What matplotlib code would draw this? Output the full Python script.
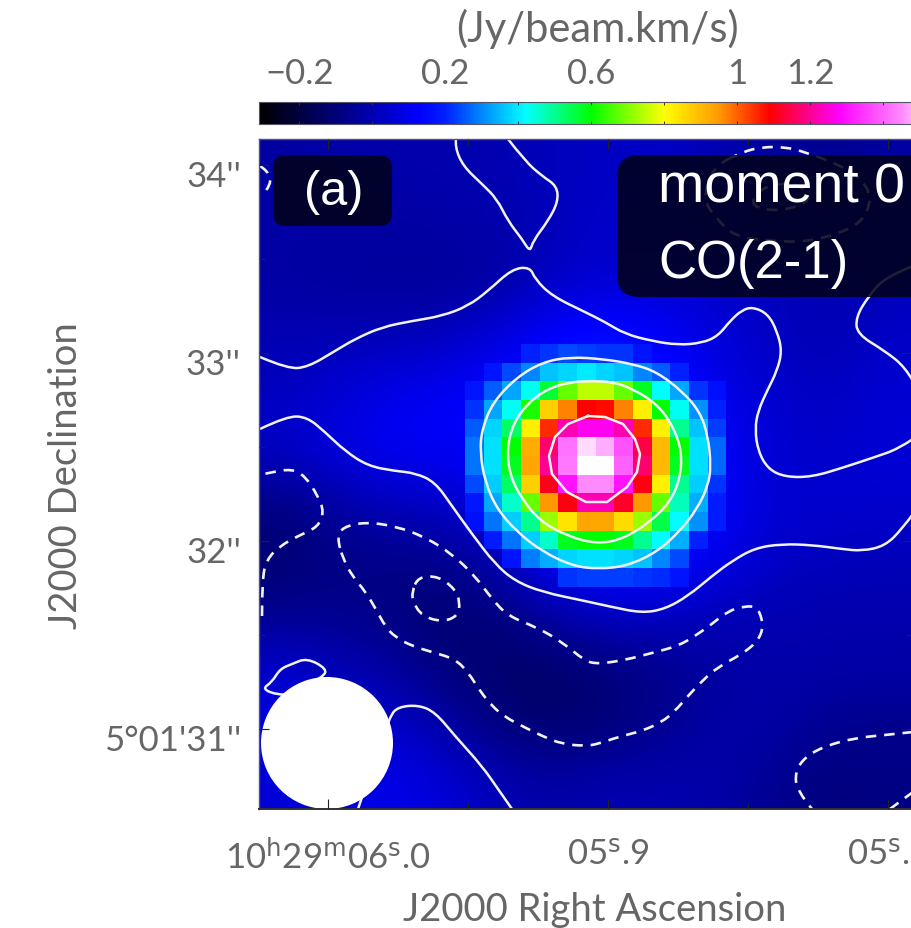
import numpy as np
import matplotlib
matplotlib.use("Agg")
import matplotlib.pyplot as plt
from matplotlib.colors import LinearSegmentedColormap, Normalize
from matplotlib.cm import ScalarMappable
from matplotlib.patches import Ellipse, FancyBboxPatch, PathPatch
from matplotlib.path import Path
from matplotlib.transforms import IdentityTransform, ScaledTranslation

# ---------- data ----------
n = np.nan
background_map = [
    [-.03,-.02,-.01,-.01,.00,.02,.03,.03,.00,-.05,-.06,-.03],
    [-.02,-.03,-.03,-.02,-.01,.02,.04,.04,.03,.00,-.02,.00],
    [-.03,-.04,-.04,-.05,-.03,.03,.05,.05,.04,.02,.00,.02],
    [.00,.00,.00,.02,.08,.15,.17,.12,.06,.02,.00,.03],
    [.02,.06,.10,.12,.15,.16,.17,.16,.10,.04,.02,.06],
    [.04,.09,.12,.12,.15,.16,.17,.16,.12,.05,.04,.06],
    [-.08,-.02,.03,.04,.10,.16,.17,.16,.12,.05,.05,.05],
    [-.12,-.08,-.08,-.06,.00,.15,.17,.15,.10,.03,.02,.01],
    [-.06,-.06,-.09,-.12,-.09,-.02,.03,.03,.00,.00,-.01,-.01],
    [.05,.00,-.03,-.10,-.13,-.13,-.10,-.07,-.03,-.02,-.02,-.02],
    [.08,.08,.04,-.02,-.10,-.12,-.10,-.05,-.02,-.02,-.06,-.07],
    [.06,.08,.10,.06,.00,-.02,.00,-.01,-.02,-.06,-.10,-.08],
]
source_map = [
    [n,n,n,.20,.22,.24,.23,.22,.22,.17,n,n,n,n],
    [n,.17,.24,.30,.36,.38,.40,.38,.36,.30,.26,.20,n,n],
    [.17,.26,.33,.43,.56,.68,.75,.75,.68,.58,.42,.33,.22,.16],
    [.22,.33,.43,.62,.87,.97,1.09,1.08,.97,.82,.60,.43,.31,.20],
    [.26,.38,.53,.82,1.05,1.22,1.27,1.27,1.22,1.05,.82,.50,.36,.23],
    [.28,.39,.60,.92,1.17,1.42,1.52,1.48,1.38,1.14,.90,.60,.39,.27],
    [.28,.39,.58,.93,1.20,1.43,1.55,1.55,1.40,1.17,.90,.58,.39,.27],
    [.24,.37,.53,.87,1.11,1.30,1.45,1.45,1.30,1.10,.82,.50,.37,.22],
    [.18,.33,.46,.68,.95,1.10,1.22,1.22,1.12,.95,.68,.47,.34,.19],
    [.16,.28,.37,.50,.72,.84,.93,.93,.85,.72,.55,.42,.31,.19],
    [n,.19,.28,.37,.46,.58,.60,.60,.58,.50,.42,.34,.20,n],
    [n,n,.17,.29,.34,.38,.39,.39,.38,.36,.30,.24,n,n],
    [n,n,n,n,n,.22,.23,.23,.23,.22,.21,.17,n,n],
]
# contour vertices, in map readout units
pos_a = [(456,140),(455,148),(463,167),(482,185),(497,200),(508,222),(522,240),(530,253),(533,242),(548,222),(558,203),(557,187),(542,177),(525,162),(508,140)]
pos_b = [(260,358),(288,370),(308,368),(335,352),(355,340),(382,328),(412,322),(442,317),(468,307),(488,292),(512,270),(530,268),(535,280),(552,297),(585,313),(605,323),(625,335),(652,342),(678,346),(702,344),(718,337),(730,322),(742,311),(753,308),(768,315),(777,332),(782,352),(777,372),(767,392),(758,412),(755,430),(758,452),(768,470),(785,478),(812,478),(845,468),(875,458),(898,450),(913,440)]
pos_c = [(913,382),(905,368),(885,352),(857,335),(856,318),(868,298),(885,278),(913,267)]
pos_d = [(260,430),(287,417),(307,418),(325,433),(345,452),(368,467),(395,472),(415,474),(435,483),(452,507),(472,535),(495,565),(515,582),(542,593),(585,602),(612,608),(642,614),(665,610),(688,597),(712,577),(732,562),(755,549),(782,545),(812,546),(842,550),(862,552),(885,547),(902,530),(913,515)]
pos_e = [(570,358),(543,363),(517,378),(493,403),(482,430),(480,453),(485,483),(497,510),(517,533),(543,553),(573,567),(598,570),(627,567),(657,553),(680,532),(697,510),(708,487),(711,467),(708,437),(700,413),(683,393),(657,373),(633,365),(603,360),(570,358)]
pos_f = [(593,382),(570,383),(547,390),(527,405),(513,425),(507,450),(510,477),(522,500),(540,522),(567,537),(597,545),(623,540),(650,523),(670,503),(680,480),(682,453),(673,427),(657,405),(633,390),(613,383),(593,382)]
pos_g = [(588,417),(605,418),(623,425),(635,440),(640,455),(637,473),(627,488),(607,503),(586,503),(567,493),(552,475),(549,457),(555,438),(568,425),(588,417)]
pos_h = [(307,659),(327,670),(323,678),(292,695),(278,696),(262,690),(272,683),(280,670),(292,665),(307,659)]
pos_i = [(358,810),(362,798),(375,760),(390,717),(398,708),(418,706),(435,713),(455,737),(482,767),(498,790),(512,810)]
neg_j = [(260,167),(268,172),(272,185),(262,197)]
neg_k = [(262,617),(262,580),(267,560),(280,547),(298,537),(318,528),(324,513),(318,497),(305,477),(292,470),(272,473),(260,476)]
neg_l = [(337,538),(343,528),(365,523),(395,527),(425,538),(452,555),(475,577),(492,600),(508,617),(538,629),(562,643),(585,662),(598,665),(625,661),(652,654),(678,647),(695,637),(712,625),(728,612),(745,607),(757,608),(762,620),(763,630),(757,643),(742,655),(718,668),(702,682),(688,697),(675,712),(662,723),(642,732),(618,738),(598,745),(585,747),(562,745),(542,737),(522,727),(505,718),(492,707),(480,692),(468,673),(455,660),(432,653),(412,647),(395,638),(385,627),(377,612),(365,592),(353,578),(343,560),(337,538)]
neg_m = [(418,578),(438,577),(455,590),(460,603),(458,617),(442,623),(422,617),(413,603),(412,593),(418,578)]
neg_n = [(913,733),(885,736),(855,739),(825,747),(805,758),(795,773),(797,792),(812,810)]
neg_n2 = [(890,810),(913,793)]
neg_o = [(742,153),(762,148),(785,148),(805,153),(842,167),(862,180),(872,200),(862,223),(838,235),(805,243),(772,242),(735,238),(715,218),(703,200),(713,168),(742,153)]
neg_p = [(752,207),(772,212),(798,208),(812,198),(798,185),(772,185),(755,195),(752,207)]
smooth_positive = [pos_a,pos_b,pos_c,pos_d,pos_e,pos_f,pos_h,pos_i]
angular_positive = [pos_g]
negative_contours = [neg_j,neg_k,neg_l,neg_m,neg_n,neg_n2,neg_o,neg_p]

ra_major = [6.0, 5.9, 5.8]
ra_major_labels = ["10$^{\\mathrm{h}}$29$^{\\mathrm{m}}$06$^{\\mathrm{s}}$.0", "05$^{\\mathrm{s}}$.9", "05$^{\\mathrm{s}}$.8"]
ra_minor = [5.95, 5.85]
dec_major = [31, 32, 33, 34]
dec_major_labels = ["5\u00b001'31''", "32''", "33''", "34''"]
dec_minor = [31.5, 32.5, 33.5]
cbar_ticks = [-0.2, 0, 0.2, 0.4, 0.6, 0.8, 1.0, 1.2, 1.4]
cbar_labels = ["\u22120.2", "", "0.2", "", "0.6", "", "1", "1.2", ""]
cmap_values = [-0.31, 0.13, 0.20, 0.30, 0.42, 0.60, 0.80, 0.95, 1.09, 1.28, 1.45, 1.55]
cmap_colors = ["#000000", "#0000ff", "#0020ff", "#0088ff", "#00ffff", "#00ff00", "#ffff00",
               "#ff9900", "#ff0000", "#ff00ff", "#ff88ff", "#ffffff"]

# ---------- layout ----------
W, H = 912, 929
plt.rcParams["font.family"] = ["Lato", "DejaVu Sans"]
plt.rcParams["mathtext.default"] = "regular"
TXT = "#666666"
VMIN, VMAX = cmap_values[0], cmap_values[-1]

def sky_x(x):
    return 5.9 - (np.asarray(x, float) - 608) / 2800.0
def sky_y(y):
    return 32 + (542 - np.asarray(y, float)) / 188.0

fig = plt.figure(figsize=(W / 100, H / 100), dpi=100, facecolor="white")
def box(l, t, r, b):
    return [l / W, 1 - b / H, (r - l) / W, (b - t) / H]

ax = fig.add_axes(box(259, 140, 912, 810))
cax = fig.add_axes(box(259, 103, 938, 125))

norm = Normalize(VMIN, VMAX)
pos = [(v - VMIN) / (VMAX - VMIN) for v in cmap_values]
cmap = LinearSegmentedColormap.from_list("casa", list(zip(pos, cmap_colors)), N=512)

ax.imshow(background_map, cmap=cmap, norm=norm, interpolation="bicubic", aspect="auto",
          extent=(sky_x(259), sky_x(913), sky_y(812), sky_y(140)), origin="upper", zorder=0)

cell = 18.67
src = np.ma.masked_invalid(np.array(source_map))
xe = sky_x(465 + cell * np.arange(src.shape[1] + 1))
ye = sky_y(345 + cell * np.arange(src.shape[0] + 1))
ax.pcolormesh(xe, ye, src, cmap=cmap, norm=norm, shading="flat", zorder=1, antialiased=False)

def curve(points, **style):
    """Draw a contour as a quadratic curve through the mid-points of its read-off vertices."""
    a = np.array(points, float)
    p = np.column_stack([sky_x(a[:, 0]), sky_y(a[:, 1])])
    closed = np.allclose(a[0], a[-1])
    c = style.pop("color")
    if len(p) < 3:
        ax.add_patch(PathPatch(Path(p), fc="none", ec=c, **style))
        return
    verts, codes = [], []
    if closed:
        start = (p[0] + p[-2]) / 2
        verts.append(start); codes.append(Path.MOVETO)
        for i in range(len(p) - 1):
            verts += [p[i], (p[i] + p[i + 1]) / 2]
            codes += [Path.CURVE3, Path.CURVE3]
    else:
        verts.append(p[0]); codes.append(Path.MOVETO)
        for i in range(1, len(p) - 1):
            end = p[-1] if i == len(p) - 2 else (p[i] + p[i + 1]) / 2
            verts += [p[i], end]
            codes += [Path.CURVE3, Path.CURVE3]
    ax.add_patch(PathPatch(Path(verts, codes), fc="none", ec=c, **style))

LC = "#f2f2f2"
for c in smooth_positive:
    curve(c, color=LC, lw=1.8, zorder=2.1)
for c in angular_positive:
    a = np.array(c)
    ax.plot(sky_x(a[:, 0]), sky_y(a[:, 1]), color=LC, lw=1.8, zorder=2.1, solid_joinstyle="round")
for c in negative_contours:
    curve(c, color=LC, lw=1.9, zorder=2.1, linestyle=(0, (4.0, 3.0)))

ax.add_patch(Ellipse((sky_x(327), sky_y(744)), 132 / 2800.0, 132 / 188.0, fc="white", ec="none", zorder=2.2))

ax.set_axisbelow(False)
ax.set_xticks(ra_major, ra_major_labels)
ax.set_xticks(ra_minor, minor=True)
ax.set_yticks(dec_major, dec_major_labels)
ax.set_yticks(dec_minor, minor=True)
ax.set_xlim(sky_x(259), sky_x(912))
ax.set_ylim(sky_y(810), sky_y(140))
ax.tick_params(which="major", direction="in", length=7, width=0.8, color="#222222", top=True, right=True,
               labelsize=25, labelcolor=TXT)
ax.tick_params(which="minor", direction="in", length=4, width=0.8, color="#222222", top=True, right=True)
ax.tick_params(axis="y", pad=13)
ax.tick_params(axis="x", pad=21)
off = ScaledTranslation(0, -8 / 100, fig.dpi_scale_trans)
for lab in ax.get_yticklabels():
    lab.set_transform(lab.get_transform() + off)
for s in ax.spines.values():
    s.set_color("#555566")
    s.set_linewidth(1.0)
ax.spines["bottom"].set_color("#333333")
ax.spines["bottom"].set_linewidth(1.4)

cb = fig.colorbar(ScalarMappable(norm=norm, cmap=cmap), cax=cax, orientation="horizontal")
cb.set_ticks(cbar_ticks, labels=cbar_labels)
cax.tick_params(axis="x", direction="in", length=2.5, width=0.7, color="#333333", top=True, bottom=True,
                labeltop=True, labelbottom=False, labelsize=25, labelcolor=TXT, pad=9)
cb.outline.set_edgecolor("#555566")
cb.outline.set_linewidth(0.8)

px = IdentityTransform()
def Y(y):
    return H - y

dark = dict(fc="#02021c", ec="none", alpha=0.88, transform=px, zorder=3, clip_on=False)
ax.add_patch(FancyBboxPatch((273 + 13, Y(227) + 13), 119 - 26, 71 - 26,
                            boxstyle="round,pad=13,rounding_size=13", **dark))
ax.add_patch(FancyBboxPatch((617 + 22, Y(298) + 22), 340 - 44, 142 - 44,
                            boxstyle="round,pad=22,rounding_size=22", **dark))

white = dict(color="white", family=["Liberation Sans"], weight="normal", transform=px, zorder=4, va="baseline")
ax.text(304, Y(205), "(a)", fontsize=35, **white)
ax.text(658, Y(203), "moment 0", fontsize=40, **white)
ax.text(658, Y(278), "CO(2-1)", fontsize=38, **white)

fig.text(597 / W, 1 - 42 / H, "(Jy/beam.km/s)", ha="center", va="baseline", fontsize=30, color=TXT)
fig.text(595 / W, 1 - 921 / H, "J2000 Right Ascension", ha="center", va="baseline", fontsize=27.5, color=TXT)
fig.text(77 / W, 1 - 476 / H, "J2000 Declination", ha="center", va="baseline", rotation=90,
         rotation_mode="anchor", fontsize=27.5, color=TXT)

fig.savefig("out.png", dpi=100, facecolor="white")
